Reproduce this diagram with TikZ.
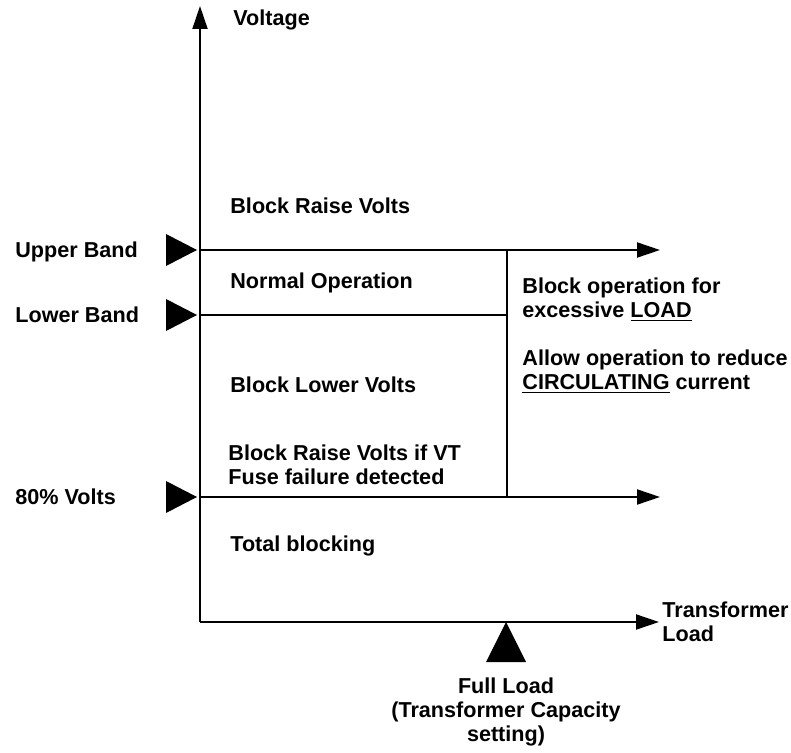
\documentclass[tikz,border=0pt]{standalone}
\usepackage{fontspec}
\setmainfont{Liberation Sans}
\usetikzlibrary{arrows.meta}

\tikzset{
  axis/.style={line width=1pt, -{Triangle[length=11.5pt,width=7.5pt]}},
  bandline/.style={line width=1pt},
  marker/.style={fill=black},
  lbl/.style={anchor=west, inner sep=0pt, align=left, font=\bfseries\fontsize{10.8}{12}\selectfont},
}

\begin{document}
\begin{tikzpicture}[x=0.5pt, y=-0.5pt]
\useasboundingbox (0,0) rectangle (791,753);
% axes
\coordinate (o) at (200,622);
\coordinate (ytip) at (200,6);
\coordinate (xtip) at (659,622);
\draw[axis] (o) -- (ytip);
\draw[axis] (o) -- (xtip);
% band lines
\coordinate (ub) at (200,250);
\coordinate (lb) at (200,315);
\coordinate (lv) at (200,497);
\coordinate (ubend) at (660,250);
\coordinate (lbend) at (507,315);
\coordinate (lvend) at (660,497);
\coordinate (splittop) at (507,250);
\coordinate (splitbot) at (507,497);
\draw[axis] (ub) -- (ubend);
\draw[bandline] (lb) -- (lbend);
\draw[axis] (lv) -- (lvend);
\draw[bandline] (splittop) -- (splitbot);
% markers
\fill[marker] (197,250) -- ++(-31,-16) -- ++(0,32) -- cycle;
\fill[marker] (197,315) -- ++(-31,-16) -- ++(0,32) -- cycle;
\fill[marker] (197,497) -- ++(-31,-16) -- ++(0,32) -- cycle;
\fill[marker] (506,622) -- ++(-20,40) -- ++(40,0) -- cycle;
% labels
\node[lbl] (volt) at (233,20) {Voltage};
\node[lbl] (upper) at (15,252) {Upper Band};
\node[lbl] (lower) at (15,315) {Lower Band};
\node[lbl] (eighty) at (15,497) {80\% Volts};
\node[lbl] (braise) at (230,206) {Block Raise Volts};
\node[lbl] (normal) at (230,283) {Normal Operation};
\node[lbl] (blower) at (230,385) {Block Lower Volts};
\node[lbl] (vtfuse) at (228,465) {Block Raise Volts if VT\\Fuse failure detected};
\node[lbl] (total) at (230,546) {Total blocking};
\node[lbl] (excess) at (522,300) {Block operation for\\excessive \underline{LOAD}};
\node[lbl] (circ) at (522,372) {Allow operation to reduce\\\underline{CIRCULATING} current};
\node[lbl] (tload) at (662,622) {Transformer\\Load};
\node[lbl, anchor=center, align=center] (full) at (506,712) {Full Load\\(Transformer Capacity\\setting)};
\end{tikzpicture}
\end{document}
